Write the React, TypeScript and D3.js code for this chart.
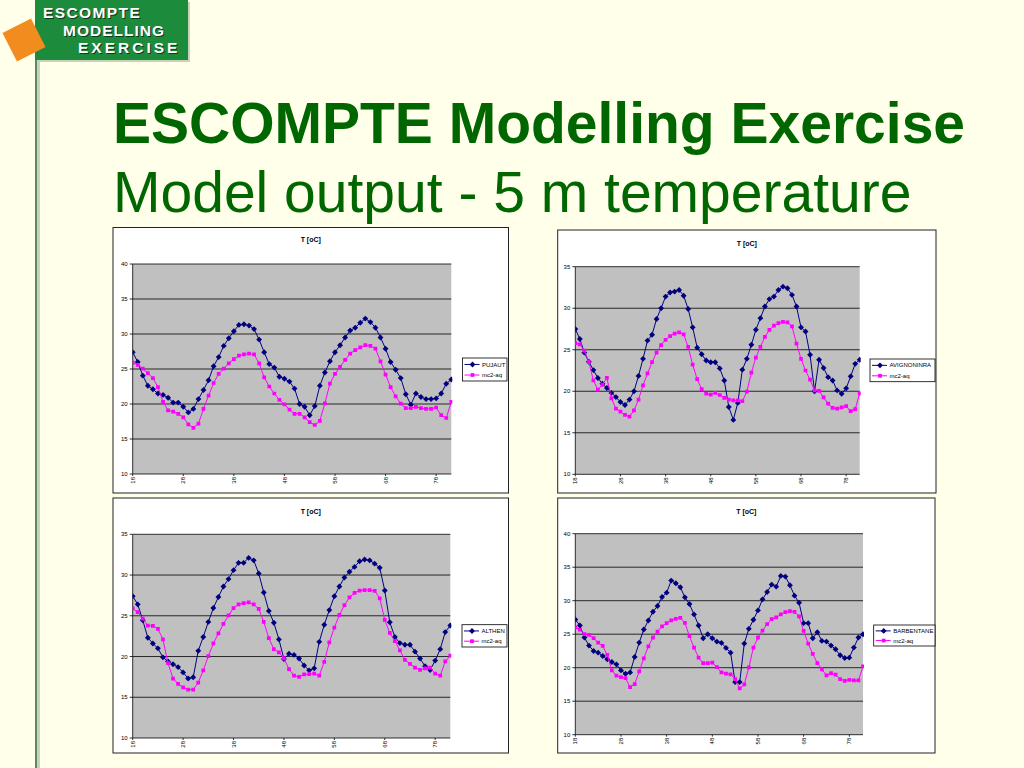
import * as d3 from 'd3';

// hours since start of the run (category axis)
const hours = [
  18, 19, 20, 21, 22, 23, 24, 25, 26, 27, 28, 29, 30, 31, 32, 33,
  34, 35, 36, 37, 38, 39, 40, 41, 42, 43, 44, 45, 46, 47, 48, 49,
  50, 51, 52, 53, 54, 55, 56, 57, 58, 59, 60, 61, 62, 63, 64, 65,
  66, 67, 68, 69, 70, 71, 72, 73, 74, 75, 76, 77, 78, 79, 80, 81,
];
const xTickLabels = ['18', '28', '38', '48', '58', '68', '78'];
const yTicks40 = [10, 15, 20, 25, 30, 35, 40];
const yTicks35 = [10, 15, 20, 25, 30, 35];
const modelName = 'mc2-aq';

const pujaut = [
  27.4, 26.0, 24.05, 22.6, 22.1, 21.5, 21.3, 20.9, 20.2, 20.2,
  19.6, 18.8, 19.3, 20.7, 22.0, 23.4, 25.4, 26.7, 28.3, 29.4,
  30.4, 31.3, 31.4, 31.2, 30.7, 29.2, 27.4, 25.7, 25.2, 23.9,
  23.6, 23.2, 22.2, 20.0, 19.6, 18.4, 19.7, 22.6, 24.5, 26.1,
  27.4, 28.4, 29.5, 30.5, 30.9, 31.6, 32.2, 31.7, 30.9, 29.5,
  27.9, 26.0, 24.9, 23.7, 21.4, 19.9, 21.5, 21.0, 20.7, 20.7,
  20.8, 21.5, 22.9, 23.5,
];
const pujautModel = [
  25.9, 25.6, 25.05, 24.4, 23.7, 22.4, 20.3, 19.1, 18.9, 18.6,
  18.1, 17.1, 16.6, 17.2, 19.3, 21.2, 23.0, 24.3, 25.05, 25.8,
  26.4, 26.9, 27.1, 27.2, 27.1, 25.8, 23.8, 22.5, 21.5, 20.6,
  19.95, 19.2, 18.6, 18.6, 18.1, 17.4, 17.0, 17.6, 20.1, 22.9,
  24.3, 25.3, 26.3, 27.2, 27.7, 28.1, 28.4, 28.3, 27.9, 26.1,
  24.2, 22.4, 21.1, 20.05, 19.4, 19.4, 19.6, 19.4, 19.3, 19.3,
  19.5, 18.4, 18.0, 20.3,
];
const avignon = [
  27.5, 26.3, 24.65, 23.55, 22.55, 21.6, 20.9, 20.4, 19.8, 19.3,
  18.7, 18.35, 19.0, 20.0, 21.85, 23.9, 26.1, 26.8, 28.7, 30.0,
  31.4, 31.9, 32.0, 32.2, 31.5, 29.9, 27.7, 25.25, 24.45, 23.7,
  23.5, 23.5, 22.75, 21.3, 18.1, 16.55, 18.6, 22.6, 23.9, 25.6,
  27.4, 28.8, 30.2, 31.1, 31.4, 32.2, 32.6, 32.4, 31.6, 30.2,
  27.7, 27.2, 24.4, 20.0, 23.8, 22.8, 21.7, 21.3, 20.1, 19.7,
  20.35, 21.8, 23.3, 23.8,
];
const avignonModel = [
  25.8, 25.65, 24.9, 23.55, 21.3, 20.2, 20.8, 21.6, 19.15, 17.9,
  17.55, 17.15, 16.95, 17.7, 19.0, 20.7, 22.15, 23.5, 24.65, 25.55,
  26.2, 26.65, 26.95, 27.1, 26.85, 25.35, 23.2, 21.45, 20.25, 19.7,
  19.6, 19.8, 19.55, 19.2, 19.0, 18.9, 18.9, 18.8, 19.95, 22.25,
  24.05, 25.35, 26.55, 27.4, 27.9, 28.2, 28.35, 28.3, 27.8, 25.75,
  23.9, 22.5, 21.4, 20.1, 20.05, 19.25, 18.5, 18.0, 17.9, 18.05,
  18.2, 17.6, 17.85, 19.75,
];
const althen = [
  27.4, 26.4, 24.45, 22.3, 21.6, 21.0, 19.9, 19.4, 19.05, 18.7,
  18.05, 17.3, 17.45, 20.7, 22.4, 24.25, 25.95, 27.3, 28.6, 29.5,
  30.6, 31.5, 31.5, 32.1, 31.8, 30.2, 27.85, 25.6, 24.15, 22.1,
  19.7, 20.35, 20.2, 19.75, 18.9, 18.3, 18.55, 21.8, 23.9, 25.7,
  27.4, 28.6, 29.7, 30.4, 31.0, 31.7, 31.9, 31.8, 31.4, 30.9,
  28.1, 24.2, 22.4, 21.65, 21.45, 21.45, 20.6, 19.75, 18.8, 18.35,
  19.5, 20.9, 23.0, 23.8,
];
const althenModel = [
  25.9, 25.45, 24.65, 23.8, 23.75, 23.4, 22.1, 19.2, 17.3, 16.65,
  16.2, 15.95, 15.95, 16.8, 18.3, 20.05, 21.6, 22.85, 24.0, 25.05,
  25.95, 26.4, 26.55, 26.65, 26.4, 25.85, 24.25, 22.25, 20.9, 20.5,
  19.8, 18.45, 17.65, 17.5, 17.8, 17.85, 17.9, 17.65, 19.35, 21.75,
  23.55, 25.1, 26.3, 27.25, 27.8, 28.1, 28.15, 28.15, 28.05, 27.15,
  24.5, 22.9, 21.9, 20.75, 19.6, 19.1, 18.65, 18.35, 18.55, 18.65,
  17.9, 17.65, 19.4, 20.1,
];
const barbentane = [
  27.2, 26.3, 24.5, 23.3, 22.5, 22.25, 21.75, 21.25, 20.85, 20.5,
  19.6, 19.1, 19.3, 21.6, 23.75, 25.7, 27.05, 28.35, 29.2, 30.55,
  31.2, 33.0, 32.6, 32.0, 30.5, 29.5, 27.95, 26.3, 24.4, 25.0,
  24.4, 23.9, 23.7, 22.95, 22.25, 17.85, 17.85, 23.6, 25.8, 27.15,
  28.55, 30.2, 31.3, 32.4, 32.1, 33.7, 33.6, 32.3, 30.75, 29.7,
  26.65, 26.65, 24.4, 25.3, 24.0, 23.9, 23.3, 22.75, 21.85, 21.45,
  21.5, 23.0, 24.5, 25.0,
];
const barbentaneModel = [
  26.0, 25.7, 25.0, 24.9, 24.4, 23.75, 23.25, 21.9, 19.6, 18.8,
  18.6, 18.45, 17.1, 17.55, 19.45, 21.4, 23.2, 24.5, 25.4, 26.15,
  26.65, 27.05, 27.3, 27.45, 26.7, 24.7, 23.0, 21.5, 20.7, 20.7,
  20.75, 20.1, 19.3, 19.1, 19.0, 18.3, 16.9, 17.5, 20.05, 23.0,
  24.5, 25.55, 26.5, 27.25, 27.5, 27.95, 28.3, 28.45, 28.35, 27.65,
  25.5, 23.6, 22.05, 20.7, 19.75, 18.85, 19.2, 18.95, 18.3, 18.05,
  18.2, 18.1, 18.1, 20.2,
];

const FONT = '"Liberation Sans", Arial, sans-serif';
const GREEN = '#006600';
const OBS_COLOR = '#000080';
const MODEL_COLOR = '#FF00FF';

interface Box { x: number; y: number; w: number; h: number; }
interface Plot { left: number; top: number; right: number; bottom: number; }

interface ChartProps {
  id: string;
  frame: Box;
  plot: Plot;
  legend: Box;
  titleY: number;
  yTicks: number[];
  station: string;
  obs: number[];
  model: number[];
}

const diamond = d3.symbol((d3 as any).symbolDiamond2 ?? d3.symbolDiamond, 22)() as string;
const square = d3.symbol(d3.symbolSquare, 14)() as string;

function TempChart({ id, frame, plot, legend, titleY, yTicks, station, obs, model }: ChartProps) {
  const x = d3.scaleLinear()
    .domain([hours[0], hours[hours.length - 1]])
    .range([plot.left, plot.right]);
  const y = d3.scaleLinear()
    .domain([yTicks[0], yTicks[yTicks.length - 1]])
    .range([plot.bottom, plot.top]);

  const line = d3.line<number>()
    .x((_, i) => x(hours[i]))
    .y(d => y(d));

  const series = [
    { name: station, values: obs, color: OBS_COLOR, marker: diamond },
    { name: modelName, values: model, color: MODEL_COLOR, marker: square },
  ];

  return (
    <g fontFamily={FONT}>
      <rect x={frame.x} y={frame.y} width={frame.w} height={frame.h} fill="#fff" stroke="#222" strokeWidth={1} />
      <text x={frame.x + frame.w / 2} y={titleY} textAnchor="middle" fontSize={7} fontWeight="bold" fill="#000">T [oC]</text>

      <clipPath id={`clip-${id}`}>
        <rect x={plot.left} y={plot.top - 4} width={plot.right - plot.left + 1} height={plot.bottom - plot.top + 8} />
      </clipPath>

      <rect x={plot.left} y={plot.top} width={plot.right - plot.left} height={plot.bottom - plot.top} fill="#C0C0C0" />

      {/* gridlines + y axis labels */}
      {yTicks.map(t => (
        <g key={t}>
          <line x1={plot.left} x2={plot.right} y1={y(t)} y2={y(t)} stroke="#000" strokeWidth={0.8} />
          <line x1={plot.left - 3} x2={plot.left} y1={y(t)} y2={y(t)} stroke="#000" strokeWidth={0.8} />
          <text x={plot.left - 5} y={y(t)} dy="0.35em" textAnchor="end" fontSize={6} fill="#000">{t}</text>
        </g>
      ))}
      <line x1={plot.left} x2={plot.left} y1={plot.top} y2={plot.bottom} stroke="#000" strokeWidth={0.8} />

      {/* x axis */}
      {xTickLabels.map(lbl => {
        const px = x(+lbl);
        return (
          <g key={lbl}>
            <line x1={px} x2={px} y1={plot.bottom} y2={plot.bottom + 2} stroke="#000" strokeWidth={0.8} />
            <text transform={`translate(${px},${plot.bottom + 3}) rotate(-90)`} dy="0.35em" textAnchor="end" fontSize={6} fill="#000">{lbl}</text>
          </g>
        );
      })}

      <g clipPath={`url(#clip-${id})`}>
        {series.map(s => (
          <g key={s.name}>
            <path d={line(s.values) as string} fill="none" stroke={s.color} strokeWidth={1} />
            {s.values.map((v, i) => (
              <path key={i} d={s.marker} transform={`translate(${x(hours[i])},${y(v)})`} fill={s.color} />
            ))}
          </g>
        ))}
      </g>

      {/* legend */}
      <rect x={legend.x} y={legend.y} width={legend.w} height={legend.h} fill="#fff" stroke="#000" strokeWidth={0.8} />
      {series.map((s, i) => {
        const ly = legend.y + legend.h * (i === 0 ? 0.28 : 0.74);
        return (
          <g key={s.name}>
            <line x1={legend.x + 2} x2={legend.x + 17} y1={ly} y2={ly} stroke={s.color} strokeWidth={1} />
            <path d={s.marker} transform={`translate(${legend.x + 10},${ly})`} fill={s.color} />
            <text x={legend.x + 19.5} y={ly} dy="0.35em" fontSize={6} fill="#000">{s.name}</text>
          </g>
        );
      })}
    </g>
  );
}

export default function App() {
  return (
    <svg width={1024} height={768} style={{ position: 'absolute', left: 0, top: 0 }}>
      <rect x={0} y={0} width={1024} height={768} fill="#FFFFEA" />

      {/* left rule with soft shadow */}
      <rect x={37} y={60} width={3} height={708} fill="#c9d3b8" />
      <rect x={35} y={60} width={2} height={708} fill="#5b8a5b" />

      {/* logo */}
      <rect x={37} y={2} width={153} height={60} fill="#c9d3b8" />
      <rect x={35} y={0} width={153} height={60} fill="#1c8b3b" />
      <g fontFamily={FONT} fontWeight="bold" fontSize={15.5}>
        {[
          { t: 'ESCOMPTE', x: 43, y: 18, ls: 1.4 },
          { t: 'MODELLING', x: 63, y: 36, ls: 1.0 },
          { t: 'EXERCISE', x: 78, y: 53, ls: 3.0 },
        ].map(l => (
          <g key={l.t}>
            <text x={l.x + 1} y={l.y + 1} fill="#0a3a18" letterSpacing={l.ls}>{l.t}</text>
            <text x={l.x} y={l.y} fill="#fff" letterSpacing={l.ls}>{l.t}</text>
          </g>
        ))}
      </g>
      <rect x={-16} y={-16} width={32} height={32} fill="#F28C1E" transform="translate(24,40) rotate(-27)" />

      {/* slide titles */}
      <text x={113} y={143} fontFamily={FONT} fontWeight="bold" fontSize={57} fill={GREEN}>ESCOMPTE Modelling Exercise</text>
      <text x={113} y={212} fontFamily={FONT} fontSize={57} fill={GREEN}>Model output - 5 m temperature</text>

      <TempChart
        id="pujaut"
        frame={{ x: 113, y: 227.5, w: 395.5, h: 265.5 }}
        plot={{ left: 132.7, top: 264, right: 451.3, bottom: 474 }}
        legend={{ x: 462.5, y: 358, w: 44.5, h: 23 }}
        titleY={242}
        yTicks={yTicks40}
        station="PUJAUT"
        obs={pujaut}
        model={pujautModel}
      />
      <TempChart
        id="avignon"
        frame={{ x: 557.7, y: 230, w: 378.3, h: 263 }}
        plot={{ left: 575.3, top: 266.7, right: 859.7, bottom: 474.3 }}
        legend={{ x: 870, y: 359, w: 65, h: 22.7 }}
        titleY={245.5}
        yTicks={yTicks35}
        station="AVIGNONINRA"
        obs={avignon}
        model={avignonModel}
      />
      <TempChart
        id="althen"
        frame={{ x: 113, y: 498, w: 395.5, h: 255 }}
        plot={{ left: 132.7, top: 534.3, right: 450.3, bottom: 738 }}
        legend={{ x: 462, y: 624.7, w: 45, h: 22.3 }}
        titleY={513.5}
        yTicks={yTicks35}
        station="ALTHEN"
        obs={althen}
        model={althenModel}
      />
      <TempChart
        id="barbentane"
        frame={{ x: 557.7, y: 498, w: 377.3, h: 255 }}
        plot={{ left: 575.3, top: 533.7, right: 863, bottom: 734.7 }}
        legend={{ x: 873.7, y: 625, w: 61.3, h: 21 }}
        titleY={513.5}
        yTicks={yTicks40}
        station="BARBENTANE"
        obs={barbentane}
        model={barbentaneModel}
      />
    </svg>
  );
}
